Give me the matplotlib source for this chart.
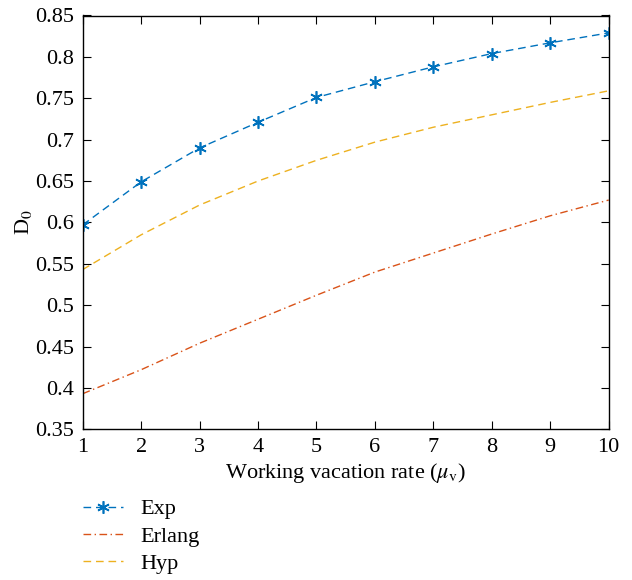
import matplotlib
matplotlib.use('Agg')
import matplotlib.pyplot as plt

plt.rcParams['font.family'] = ['Liberation Serif', 'DejaVu Serif']
plt.rcParams['mathtext.fontset'] = 'stix'

rate = [1, 2, 3, 4, 5, 6, 7, 8, 9, 10]
exp_vals = [0.597, 0.649, 0.690, 0.721, 0.751, 0.770, 0.788, 0.804, 0.817, 0.829]
erlang_vals = [0.393, 0.422, 0.454, 0.483, 0.512, 0.540, 0.563, 0.586, 0.608, 0.627]
hyp_vals = [0.543, 0.585, 0.621, 0.650, 0.675, 0.697, 0.715, 0.730, 0.745, 0.759]

fig = plt.figure(figsize=(6.32, 5.8), dpi=100)
ax = fig.add_axes([82.7/632, 1-429.3/580, (608.7-82.7)/632, (429.3-15.5)/580])

ax.plot(rate, exp_vals, color='#0072BD', marker=(6, 2, 0), markersize=9,
        markeredgewidth=1.2, lw=1, dashes=(5.5, 3.5), label='Exp')
ax.plot(rate, erlang_vals, color='#D95319', lw=1, dashes=(5.5, 2.5, 1, 2.5), label='Erlang')
ax.plot(rate, hyp_vals, color='#EDB120', lw=1, dashes=(5.5, 3.5), label='Hyp')

ax.set_xlim(1, 10)
ax.set_ylim(0.35, 0.85)
ax.set_xticks(rate)
ax.set_yticks([0.35, 0.4, 0.45, 0.5, 0.55, 0.6, 0.65, 0.7, 0.75, 0.8, 0.85])
ax.set_yticklabels(['0.35', '0.4', '0.45', '0.5', '0.55', '0.6', '0.65', '0.7', '0.75', '0.8', '0.85'])
ax.tick_params(direction='in', top=True, right=True, labelsize=16, length=6, width=0.8, pad=6)
for s in ax.spines.values():
    s.set_linewidth(1)
ax.set_xlabel(r'Working vacation rate ($\mu_{\rm v}$)', fontsize=16, labelpad=3)
ax.set_ylabel(r'D$_0$', fontsize=16, labelpad=1)

fig.legend(loc='upper left', bbox_to_anchor=(74/632, 1-490/580), frameon=False,
           fontsize=16, handlelength=1.8, labelspacing=0.3, handletextpad=0.8,
           borderaxespad=0)

fig.savefig('out.png', dpi=100)
